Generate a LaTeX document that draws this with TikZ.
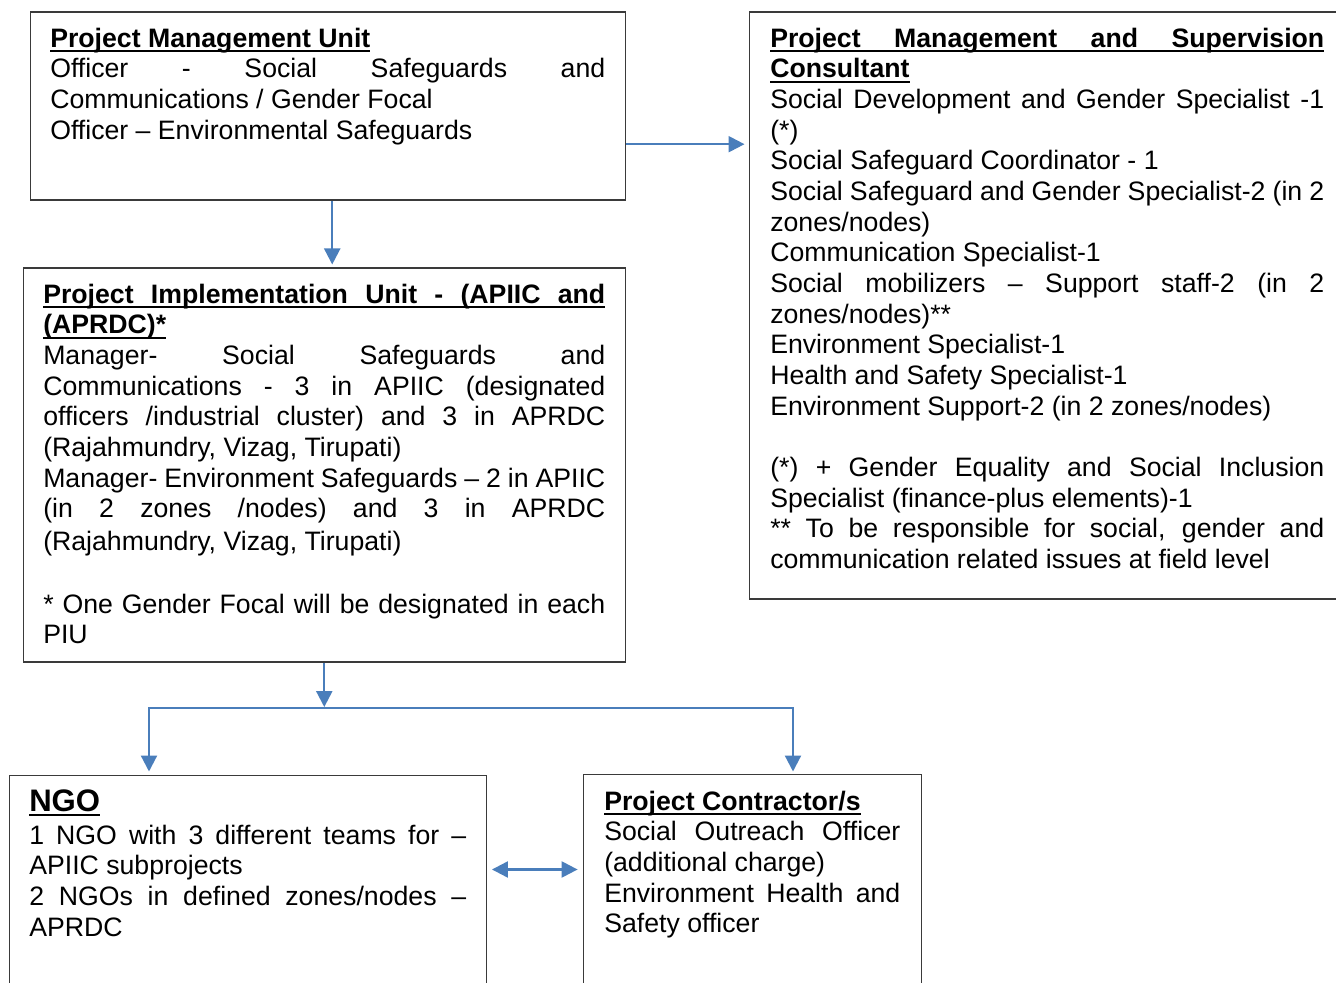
\documentclass[tikz,border=0pt]{standalone}
\usepackage{fontspec}
\setmainfont{Liberation Sans}
\usetikzlibrary{arrows.meta,calc}
\definecolor{linkc}{HTML}{4A7EBB}
\definecolor{framec}{HTML}{3A3A3A}
\newlength\px
\setlength\px{0.45pt}
\newsavebox\headbox
\newcommand\spread[1]{\makebox[\linewidth][s]{#1}}
\newcommand\heading[1]{\sbox\headbox{\bfseries #1}\rlap{\rule[-2.2pt]{\wd\headbox}{0.9pt}}\usebox\headbox}
\tikzset{
  unit/.style ={draw=framec,line width=0.7pt,anchor=north west,align=justify,
                inner xsep=20\px,inner ysep=0pt,text height=35\px,
                font=\fontsize{12}{13.8}\selectfont},
  link/.style ={linkc,line width=1pt},
  flow/.style ={link,-{Triangle[length=7.2pt,width=7.2pt]}},
  fork/.style ={link,{Triangle[length=7.2pt,width=7.2pt]}-{Triangle[length=7.2pt,width=7.2pt]}},
}

\begin{document}
\begin{tikzpicture}[x=0.45pt,y=-0.45pt]
  \path[use as bounding box,clip] (0,0) rectangle (1336,983);

  % management level
  \node[unit,text width=555\px,text depth=153\px] (pmu) at (29.5,11.5) {%
    \heading{Project Management Unit}\\
    \spread{Officer - Social Safeguards and}\\
    Communications / Gender Focal\\
    Officer – Environmental Safeguards};
  \node[unit,inner xsep=21\px,text width=554\px,text depth=552\px] (pmsc) at (748.5,11.5) {%
    \heading{\spread{Project Management and Supervision}}\\
    \heading{Consultant}\\
    \spread{Social Development and Gender Specialist -1}\\
    (*)\\
    Social Safeguard Coordinator - 1\\
    \spread{Social Safeguard and Gender Specialist-2 (in 2}\\
    zones/nodes)\\
    Communication Specialist-1\\
    \spread{Social mobilizers – Support staff-2 (in 2}\\
    zones/nodes)**\\
    Environment Specialist-1\\
    Health and Safety Specialist-1\\
    Environment Support-2 (in 2 zones/nodes)\\[13.8pt]
    \spread{(*) + Gender Equality and Social Inclusion}\\
    Specialist (finance-plus elements)-1\\
    \spread{** To be responsible for social, gender and}\\
    communication related issues at field level};

  % implementation level
  \node[unit,text width=562\px,text depth=359\px] (piu) at (22.5,267.5) {%
    \heading{\spread{Project Implementation Unit - (APIIC and}}\\
    \heading{(APRDC)*}\\
    \spread{Manager- Social Safeguards and}\\
    \spread{Communications - 3 in APIIC (designated}\\
    \spread{officers /industrial cluster) and 3 in APRDC}\\
    (Rajahmundry, Vizag, Tirupati)\\
    \spread{Manager- Environment Safeguards – 2 in APIIC}\\
    \spread{(in 2 zones /nodes) and 3 in APRDC}\\[1pt]
    (Rajahmundry, Vizag, Tirupati)\\[14.3pt]
    \spread{* One Gender Focal will be designated in each}\\
    PIU};

  % field level
  \node[unit,text width=437\px,text height=36\px,text depth=215\px] (ngo) at (8.5,774.5) {%
    \heading{\fontsize{14}{16}\selectfont NGO}\\[1pt]
    \spread{1 NGO with 3 different teams for –}\\
    APIIC subprojects\\
    \spread{2 NGOs in defined zones/nodes –}\\
    APRDC};
  \node[unit,inner xsep=21\px,text width=296\px,text height=36\px,text depth=215\px] (con) at (582.5,773.5) {%
    \heading{Project Contractor/s}\\
    \spread{Social Outreach Officer}\\
    (additional charge)\\
    \spread{Environment Health and}\\
    Safety officer};

  % connectors
  \draw[flow,shorten >=1.35pt] ([xshift=2pt]pmu.south) -- ([xshift=2pt]pmu.south |- piu.north);
  \coordinate (pmuout) at ($(pmu.north east)!0.70!(pmu.south east)$);
  \draw[flow,shorten >=1.8pt] (pmuout) -- (pmuout -| pmsc.west);
  \coordinate (bus) at ($(piu.south)+(0,48)$);
  \draw[flow,shorten >=1.8pt] (piu.south) -- (bus);
  \coordinate (busl) at (149,708);
  \coordinate (busr) at (793,708);
  \draw[fork,shorten <=1.35pt,shorten >=0.9pt] (busl |- ngo.north) -- (busl) -- (busr) -- (busr |- con.north);
  \coordinate (ngomid) at ($(ngo.north east)+(0,95)$);
  \draw[fork,shorten <=2.2pt,shorten >=2.2pt] (ngomid) -- (ngomid -| con.west);
\end{tikzpicture}
\end{document}
